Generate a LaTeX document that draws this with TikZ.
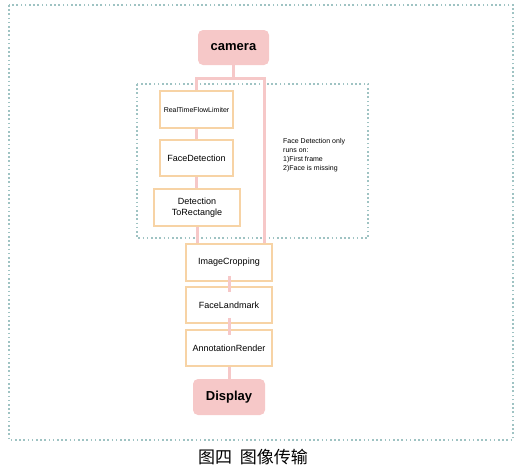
\documentclass[tikz,border=0pt]{standalone}
\usepackage{fontspec}
\setmainfont{Liberation Sans}
\newfontfamily\cjk{Noto Sans CJK SC}
\usepackage{tikz}
\usetikzlibrary{positioning,calc}

\definecolor{boxline}{HTML}{F7D3A5}
\definecolor{pinkfill}{HTML}{F6C8C8}
\definecolor{frameline}{HTML}{9FC3C3}

\begin{document}
\begin{tikzpicture}[x=1pt, y=-1pt,
      stage/.style={rectangle, draw=boxline, line width=1.6pt, fill=white, align=center, inner sep=0pt, minimum width=86pt, minimum height=37pt, font=\fontsize{9}{11}\selectfont},
      terminal/.style={rectangle, fill=pinkfill, rounded corners=5pt, inner sep=0pt, minimum width=72pt, minimum height=36pt, font=\fontsize{13}{15}\selectfont\bfseries},
      link/.style={draw=pinkfill, line width=3pt},
      frame/.style={draw=frameline, line width=1.6pt, dash pattern=on 1.6pt off 2.6pt},
      ]
      \useasboundingbox (0,0) rectangle (527,469);
      \draw[frame] (9,5) rectangle (513,440);
      \draw[frame] (137,84) rectangle (368,238);

      \node[terminal, minimum width=71pt, minimum height=35pt] (camera) at (233.5,47.5) {camera};
      \node[stage, minimum width=73pt, font=\fontsize{7}{9}\selectfont] (rtfl) at (196.5,109.5) {RealTimeFlowLimiter};
      \node[stage, minimum width=73pt, minimum height=36pt] (fd) at (196.5,158) {FaceDetection};
      \node[stage] (dtr) at (197,207.5) {Detection\\ToRectangle};
      \node[stage] (crop) at (229,262.5) {ImageCropping};
      \node[stage, minimum height=36pt] (fl) at (229,305) {FaceLandmark};
      \node[stage, minimum height=36pt] (ar) at (229,348) {AnnotationRender};
      \node[terminal] (display) at (229,397) {Display};

      \node[anchor=north west, align=left, inner sep=0pt, font=\fontsize{7}{9}\selectfont] (note) at (283,138) {Face Detection only\\runs on:\\1)First frame\\2)Face is missing};
      \node[font=\cjk\fontsize{17}{19}\selectfont] (caption) at (253,457) {图四\ \ 图像传输};

      \coordinate (split) at (233.5,78);
      \draw[link] (camera.south) -- (split);
      \draw[link] (rtfl.north) |- (split) -| ([xshift=35pt]crop.north);
      \draw[link] (rtfl.south) -- (fd.north);
      \draw[link] (fd.south) -- (fd.south |- dtr.north);
      \draw[link] (dtr.south) -- (dtr.south |- crop.north);
      \draw[link] ([yshift=6pt]crop.south) -- ([yshift=-6pt]fl.north);
      \draw[link] ([yshift=6pt]fl.south) -- ([yshift=-6pt]ar.north);
      \draw[link] (ar.south) -- (display.north);
    \end{tikzpicture}
\end{document}
